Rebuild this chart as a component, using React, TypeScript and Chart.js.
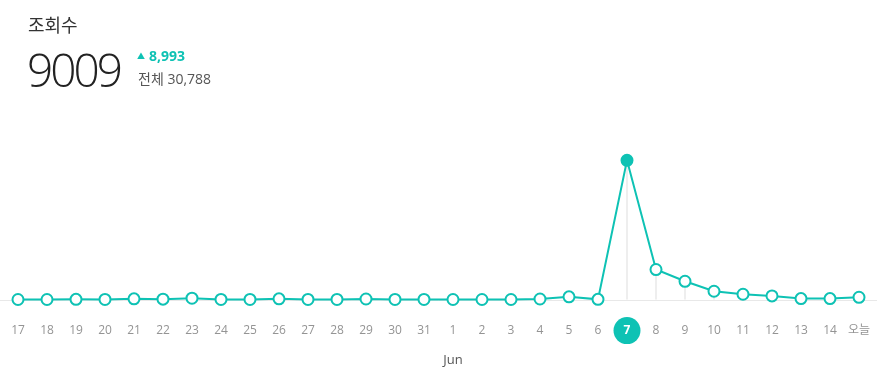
import React, { useEffect, useRef } from "react";
import { Chart, registerables } from "chart.js";

Chart.register(...registerables);

const dayLabels = [
  "17", "18", "19", "20", "21", "22", "23", "24", "25", "26", "27", "28", "29", "30", "31",
  "1", "2", "3", "4", "5", "6", "7", "8", "9", "10", "11", "12", "13", "14", "오늘",
];
const views = [
  5, 5, 15, 10, 50, 30, 90, 10, 10, 50, 10, 10, 40, 10, 10,
  5, 5, 5, 40, 180, 16, 9009, 1945, 1185, 540, 345, 240, 65, 65, 150,
];
const selectedIndex = 21;
const monthStartIndex = 15;
const monthLabel = "Jun";
const title = "조회수";
const currentValue = "9009";
const deltaValue = "8,993";
const totalLabel = "전체 30,788";

const TEAL = "#0ec2b4";
const FONT = "'Open Sans', 'Noto Sans CJK KR', sans-serif";

const extrasPlugin = {
  id: "extras",
  beforeDraw(chart: any) {
    const { ctx, scales } = chart;
    const x = scales.x;
    const y = scales.y;
    const y0 = y.getPixelForValue(0);
    ctx.save();
    ctx.strokeStyle = "#e8e8e8";
    ctx.lineWidth = 1;
    ctx.beginPath();
    ctx.moveTo(0, Math.round(y0) + 0.5);
    ctx.lineTo(chart.width, Math.round(y0) + 0.5);
    ctx.stroke();
    ctx.strokeStyle = "#eeeeee";
    ctx.lineWidth = 2;
    views.forEach((v, i) => {
      const px = x.getPixelForValue(i);
      const py = y.getPixelForValue(v);
      ctx.beginPath();
      ctx.moveTo(px, py);
      ctx.lineTo(px, y0);
      ctx.stroke();
    });
    const labelY = x.top + 24 + 7;
    const hx = x.getPixelForValue(selectedIndex);
    ctx.fillStyle = TEAL;
    ctx.beginPath();
    ctx.arc(hx, labelY, 13.5, 0, Math.PI * 2);
    ctx.fill();
    ctx.fillStyle = "#555";
    ctx.font = `13px ${FONT}`;
    ctx.textAlign = "center";
    ctx.textBaseline = "middle";
    ctx.fillText(monthLabel, x.getPixelForValue(monthStartIndex), labelY + 30);
    ctx.restore();
  },
};

export default function App() {
  const canvasRef = useRef<HTMLCanvasElement | null>(null);

  useEffect(() => {
    document.body.style.margin = "0";
    const canvas = canvasRef.current;
    if (!canvas) return;
    const chart = new Chart(canvas, {
      type: "line",
      data: {
        labels: dayLabels,
        datasets: [
          {
            data: views,
            borderColor: TEAL,
            borderWidth: 2,
            tension: 0,
            pointRadius: views.map((_, i) => (i === selectedIndex ? 5.5 : 5.5)),
            pointBorderWidth: 2,
            pointBorderColor: TEAL,
            pointBackgroundColor: views.map((_, i) => (i === selectedIndex ? TEAL : "#ffffff")),
            clip: false as any,
          },
        ],
      },
      options: {
        responsive: false,
        animation: false,
        layout: { padding: { left: 18, right: 18, top: 145, bottom: 11 } },
        plugins: { legend: { display: false }, tooltip: { enabled: false } },
        scales: {
          x: {
            offset: false,
            grid: { display: false, drawTicks: false },
            border: { display: false },
            afterFit: (s: any) => {
              s.paddingLeft = 0;
              s.paddingRight = 0;
            },
            ticks: {
              autoSkip: false,
              maxRotation: 0,
              padding: 24,
              color: (c: any) => (c.index === selectedIndex ? "#ffffff" : "#949494"),
              font: (c: any) => ({
                family: FONT,
                size: 12,
                weight: c.index === selectedIndex ? "bold" : "normal",
              }),
            },
          },
          y: { display: false, min: 0, max: 10000 },
        },
      },
      plugins: [extrasPlugin],
    });
    return () => chart.destroy();
  }, []);

  return (
    <div style={{ position: "relative", width: 877, height: 373, fontFamily: FONT, background: "#fff" }}>
      <canvas ref={canvasRef} width={877} height={373} style={{ position: "absolute", left: 0, top: 0 }} />
      <div style={{ position: "absolute", left: 28, top: 13, fontSize: 18, color: "#333", lineHeight: "24px" }}>
        {title}
      </div>
      <div
        style={{
          position: "absolute",
          left: 27,
          top: 39,
          fontSize: 46,
          fontWeight: 300,
          color: "#222",
          lineHeight: "60px",
          letterSpacing: -3,
        }}
      >
        {currentValue}
      </div>
      <div
        style={{
          position: "absolute",
          left: 137,
          top: 47,
          fontSize: 14,
          fontWeight: 700,
          color: TEAL,
          lineHeight: "18px",
          whiteSpace: "nowrap",
        }}
      >
        <span style={{ fontSize: 8, verticalAlign: "2px", marginRight: 4 }}>▲</span>
        {deltaValue}
      </div>
      <div
        style={{
          position: "absolute",
          left: 138,
          top: 69,
          fontSize: 14,
          color: "#555",
          lineHeight: "20px",
          whiteSpace: "nowrap",
        }}
      >
        {totalLabel}
      </div>
    </div>
  );
}
